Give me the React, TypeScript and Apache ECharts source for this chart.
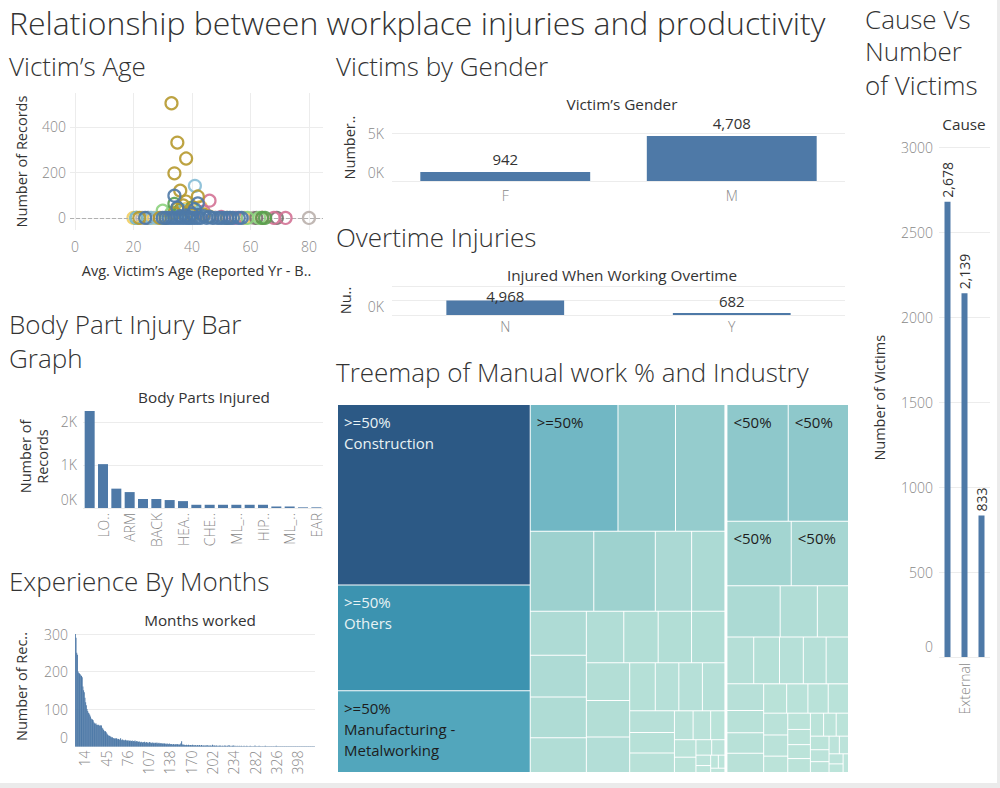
import React, { useEffect, useRef } from 'react';
import * as echarts from 'echarts';

const FONT = 'Open Sans';
const BAR = '#4e79a7';
const INK = '#333333';
const TICK = '#888888';
const GRIDC = '#ececec';
const NONE = 'rgba(0,0,0,0)';

// ---------- Victim's Age scatter (age, records) ----------
const ageOlive = [[33,504],[35,331],[38,261],[34,196],[36,120],[42,94],[38,72],[37,55],[35,40],[39,30],[34,20],[40,12],[44,15],[31,0],[29,0],[22,0],[52,0],[46,6]];
const ageLightBlue = [[41,141],[37,30],[42,22],[21,0],[26,0],[28,0],[39,0],[48,0]];
const ageGreen = [[34,62],[40,45],[36,35],[21,0],[64,0],[65,0]];
const ageLightGreen = [[30,32],[33,22],[59,0],[63,0]];
const agePink = [[46,76],[44,28],[50,4],[72,0],[68,0],[55,0]];
const ageGray = [[80,0],[23,0],[53,0],[61,0]];
const ageOrange = [[20,0],[27,0],[58,0],[38,40],[43,48]];
const ageDarkGray = [[69,0],[62,0],[25,0]];
const ageRed = [[64,0],[48,0]];
const ageBlue = [[34,98],[42,64],[35,45],[41,38],[36,8],[38,10],[40,18],[44,8],[46,4],[24,0],[30,0],[31,0],[32,0],[33,0],[34,0],[35,0],[36,0],[37,0],[38,0],[39,0],[40,0],[41,0],[42,0],[43,0],[45,0],[47,0],[49,0],[50,0],[51,0],[52,0],[53,0],[54,0],[56,0],[57,0]];

// ---------- Body parts ----------
const bodyParts = ['HAND','LO..','FINGER','ARM','LEG','BACK','FOOT','HEA..','EYE','CHE..','KNEE','ML_..','SHOULDER','HIP..','NECK','ML_..','FACE','EAR'];
const bodyValues = [2255,1020,450,370,210,210,185,160,75,75,75,75,75,75,35,35,15,15];

// ---------- Months worked ----------
const monthSegments: [number, number][] = [[0,154],[156,184],[186,219],[221,234]];
const monthsSparse = [235,236,237,238,240,241,242,244,245,246,248,249,250,252,253,254,256,258,259,260,262,264,265,267,268,270,272,274,276,278,282,
  283,284,285,286,288,289,290,292,293,294,296,297,298,300,301,302,304,305,306,308,309,310,312,313,314,316,318,320,322,324,326,
  328,330,332,334,336,338,340,342,344,346,348,350,352,354,356,358,360,362,364,366,368,370,372,374,376,378,380,384,388,392,398,
  400,404,408,412,416,420,424,430,436,442,448,456,464,472,480,490,500,510,520,530,540,552,564,576,600];
const monthTickLabels = ['14','45','76','107','138','170','202','234','282','326','398'];
const monthCounts = [
  300,290,250,245,200,196,195,193,190,188,
  185,160,150,145,130,118,110,100,95,90,
  88,85,80,75,73,72,70,65,62,60,
  62,58,58,57,58,56,55,57,56,50,
  48,45,42,40,41,38,35,32,30,28,
  29,27,26,24,25,23,22,21,23,20,
  22,19,21,20,18,19,22,17,18,19,
  17,17,16,18,15,17,16,14,17,15,
  16,14,15,16,13,15,14,16,13,14,
  15,13,12,14,12,11,13,12,10,12,
  11,13,10,11,12,10,11,9,12,10,
  11,9,10,11,9,10,8,10,9,11,
  8,9,10,8,9,8,9,8,7,9,
  8,7,8,6,8,7,6,8,7,6,
  7,6,5,7,6,5,6,5,7,6,
  5,6,5,6,9,14,5,6,4,5,
  3,4,5,3,4,5,3,4,4,3,
  4,5,3,4,3,4,2,3,4,3,
  3,4,2,3,4,3,2,3,3,2,
  3,2,4,3,2,3,2,3,2,2,
  5,3,2,3,2,2,3,2,1,2,
  2,3,2,1,2,2,1,2,3,2,
  1,2,2,1,4,2,1,2,1,2,
  2,3,1,2,1,1,2,1,1,2,
  1,1,2,1,1,1,2,1,1,1,
  2,1,1,1,1,2,1,1,1,1,
  1,1,3,1,1,1,1,1,2,1,
  1,1,1,1,1,1,1,2,1,1,
  1,1,1,1,1,1,1,1,1,1,
  1,1,1,2,1,1,1,1,1,1,
  1,1,1,1,1,1,1,1,1,1,
  1,1,1,1,1,1,1,1,1,1,
  1,1,1,1,1,1,1,1,1,1,
  1,1,1,1,1,1,1,1,1,1,
  1,1,1,1,1,1,1,1,1,1,
];

// ---------- Gender / Overtime / Cause ----------
const genders = ['F', 'M'];
const genderCounts = [942, 4708];
const overtimeCats = ['N', 'Y'];
const overtimeCounts = [4968, 682];
const causes = ['Internal', 'External', 'Other'];
const causeCounts = [2678, 2139, 833];

// ---------- Treemap (Manual work % -> Industry) ----------
const highManual = [34010,19950,15390,10875,7125,6125,4977,4819,2844,2607,2408,2296,2240,1904,1887,1734,1683,1683,1591,1548,1505,1200,1104,1104,1056,945,900,855,527,496,403,368,322,238,200,150,100,98,84,60];
const highNames = ['Construction','Others','Manufacturing - Metalworking'];
const lowManual = [7076,6960,4096,3648,2703,1887,1581,1242,1196,1104,1058,966,1036,616,588,588,504,814,740,700,666,520,312,286,312,390,364,340,300,280,250,220,200,180,160,140,120,100];

const treeColors = ['#bde4da','#9ed2cf','#7abcc6','#56a9be','#3d95b1','#3580a6','#306c96','#2c5985'];

const fmt = (v: number) => v.toLocaleString('en-US');

function buildOption() {
  const months: string[] = [];
  monthSegments.forEach(([a, b]) => { for (let m = a; m <= b; m++) months.push(String(m)); });
  monthsSparse.forEach((m) => months.push(String(m)));

  const zeroRich = { z: { padding: [0, 0, 18, 0], color: TICK, fontSize: 14, fontFamily: FONT, fontWeight: 300 } };
  const kFmt = (v: number) => (v === 0 ? '{z|0K}' : `${Math.round(v / 1000)}K`);

  const heading = (text: string, x: number, y: number, size: number) => ({
    type: 'text', x, y, silent: true,
    style: { text, fontSize: size, lineHeight: size + 2, fontFamily: FONT, fontWeight: 300, fill: INK, textVerticalAlign: 'middle' },
  });
  const chartTitle = (text: string, cx: number, y: number) => ({
    type: 'text', x: cx, y, silent: true,
    style: { text, fontSize: 15.3, fontFamily: FONT, fill: INK, textAlign: 'center', textVerticalAlign: 'middle' },
  });

  const axisName = { color: INK, fontSize: 14.5, fontFamily: FONT };
  const tickLbl = { color: TICK, fontSize: 14, fontFamily: FONT, fontWeight: 300 };

  const scatterGroups = [
    { c: '#bab0ac', d: ageGray },
    { c: '#f1ce63', d: ageOrange },
    { c: '#79706e', d: ageDarkGray },
    { c: '#e15759', d: ageRed },
    { c: '#d37295', d: agePink },
    { c: '#8cd17d', d: ageLightGreen },
    { c: '#59a14f', d: ageGreen },
    { c: '#86bcd6', d: ageLightBlue },
    { c: '#b6992d', d: ageOlive },
    { c: '#4e79a7', d: ageBlue },
  ];

  const scatterSeries = scatterGroups.map((g, i) => ({
    type: 'scatter', xAxisIndex: 0, yAxisIndex: 0, data: g.d, symbol: 'circle', symbolSize: 12,
    itemStyle: { color: NONE, borderColor: g.c, borderWidth: 2.2, opacity: 0.9 },
    markLine: i === 0 ? {
      silent: true, symbol: 'none', label: { show: false },
      lineStyle: { type: 'dashed', color: '#b0b0b0', width: 1 }, data: [{ yAxis: 0 }],
    } : undefined,
    z: 3 + i,
  }));

  const treeLabelBase = {
    show: false, position: 'insideTopLeft', fontSize: 15, lineHeight: 21, fontFamily: FONT,
    padding: [6, 6], color: '#1d1d1d',
  };
  const highData = highManual.map((v, i) => {
    const name = highNames[i] || `Industry ${i + 1}`;
    const item: any = { name, value: v };
    if (i === 0) item.label = { show: true, formatter: '>=50%\n{b}', color: '#e8f2f4' };
    if (i === 1) item.label = { show: true, formatter: '>=50%\n{b}', color: '#e8f2f4' };
    if (i === 2) item.label = { show: true, formatter: '>=50%\nManufacturing -\nMetalworking', color: '#1d1d1d' };
    if (i === 3) item.label = { show: true, formatter: '>=50%' };
    return item;
  });
  const lowData = lowManual.map((v, i) => {
    const item: any = { name: `Industry L${i + 1}`, value: v };
    if (i < 4) item.label = { show: true, formatter: '<50%' };
    return item;
  });

  return {
    animation: false,
    textStyle: { fontFamily: FONT },
    graphic: [
      { type: 'rect', shape: { x: 997, y: 0, width: 3, height: 788 }, style: { fill: '#ebebeb' }, silent: true },
      { type: 'rect', shape: { x: 0, y: 783, width: 1000, height: 5 }, style: { fill: '#ebebeb' }, silent: true },
      heading('Relationship between workplace injuries and productivity', 9, 22, 32),
      heading('Victim’s Age', 9, 66, 26),
      heading('Body Part Injury Bar', 9, 324, 26),
      heading('Graph', 9, 358, 26),
      heading('Experience By Months', 9, 581, 26),
      heading('Victims by Gender', 336, 66, 26),
      heading('Overtime Injuries', 336, 237, 26),
      heading('Treemap of Manual work % and Industry', 336, 372, 26),
      heading('Cause Vs', 865, 18.5, 26),
      heading('Number', 865, 51, 26),
      heading('of Victims', 865, 85, 26),
      chartTitle('Body Parts Injured', 204, 397),
      chartTitle('Months worked', 200, 620),
      chartTitle('Victim’s Gender', 622, 104),
      chartTitle('Injured When Working Overtime', 622, 275),
      chartTitle('Cause', 964, 124),
    ],
    grid: [
      { left: 70, top: 93, width: 253, height: 137 },
      { left: 83, top: 405, width: 240, height: 103 },
      { left: 75, top: 626.5, width: 240, height: 120 },
      { left: 392, top: 114, width: 453, height: 67 },
      { left: 392, top: 286, width: 453, height: 29 },
      { left: 939, top: 138.5, width: 51, height: 518.5 },
    ],
    xAxis: [
      {
        gridIndex: 0, type: 'value', min: -1.7, max: 84.8,
        name: 'Avg. Victim’s Age (Reported Yr - B..', nameLocation: 'middle', nameGap: 33, nameTextStyle: axisName,
        axisLine: { show: false }, axisTick: { show: false },
        axisLabel: { ...tickLbl, margin: 9, showMinLabel: false, showMaxLabel: false },
        splitLine: { show: true, lineStyle: { color: [NONE, GRIDC, GRIDC, GRIDC, GRIDC, GRIDC, NONE] } },
      },
      {
        gridIndex: 1, type: 'category', data: bodyParts,
        axisLine: { show: false }, axisTick: { show: false },
        axisLabel: { ...tickLbl, rotate: 90, margin: 5, interval: (i: number) => i % 2 === 1 },
      },
      {
        gridIndex: 2, type: 'category', data: months,
        axisLine: { show: false }, axisTick: { show: false },
        axisLabel: { ...tickLbl, rotate: 90, margin: 4, interval: (_i: number, v: string) => monthTickLabels.includes(v) },
      },
      {
        gridIndex: 3, type: 'category', data: genders,
        axisLine: { show: false }, axisTick: { show: false },
        axisLabel: { ...tickLbl, margin: 7 },
      },
      {
        gridIndex: 4, type: 'category', data: overtimeCats,
        axisLine: { show: false }, axisTick: { show: false },
        axisLabel: { ...tickLbl, margin: 4 },
      },
      {
        gridIndex: 5, type: 'category', data: causes,
        axisLine: { show: false }, axisTick: { show: false },
        axisLabel: { ...tickLbl, rotate: 90, margin: 6, interval: (i: number) => i === 1 },
      },
    ],
    yAxis: [
      {
        gridIndex: 0, type: 'value', min: -53, max: 549, splitNumber: 3,
        name: 'Number of Records', nameLocation: 'middle', nameGap: 41, nameTextStyle: axisName,
        axisLine: { show: false }, axisTick: { show: false },
        axisLabel: { ...tickLbl, margin: 4, showMinLabel: false, showMaxLabel: false },
        splitLine: { show: true, lineStyle: { color: [NONE, GRIDC, GRIDC, GRIDC, NONE] } },
      },
      {
        gridIndex: 1, type: 'value', min: 0, max: 2395, splitNumber: 2,
        name: 'Number of\nRecords', nameLocation: 'middle', nameGap: 32, nameTextStyle: { ...axisName, lineHeight: 17 },
        axisLine: { show: false }, axisTick: { show: false },
        axisLabel: { ...tickLbl, margin: 6, showMaxLabel: false, formatter: kFmt, rich: zeroRich },
        splitLine: { show: true, lineStyle: { color: [GRIDC, GRIDC, GRIDC, NONE] } },
      },
      {
        gridIndex: 2, type: 'value', min: 0, max: 320, splitNumber: 3,
        name: 'Number of Rec..', nameLocation: 'middle', nameGap: 46, nameTextStyle: axisName,
        axisLine: { show: false }, axisTick: { show: false },
        axisLabel: { ...tickLbl, margin: 7, showMaxLabel: false, formatter: (v: number) => (v === 0 ? '{z|0}' : String(v)), rich: zeroRich },
        splitLine: { show: true, lineStyle: { color: [GRIDC, GRIDC, GRIDC, GRIDC, NONE] } },
      },
      {
        gridIndex: 3, type: 'value', min: 0, max: 7000, interval: 5000,
        name: 'Number..', nameLocation: 'middle', nameGap: 35, nameTextStyle: axisName,
        axisLine: { show: false }, axisTick: { show: false },
        axisLabel: { ...tickLbl, margin: 8, showMaxLabel: false, formatter: kFmt, rich: zeroRich },
        splitLine: { show: true, lineStyle: { color: [GRIDC, GRIDC, NONE] } },
      },
      {
        gridIndex: 4, type: 'value', min: 0, max: 10000, interval: 5000,
        name: 'Nu..', nameLocation: 'middle', nameGap: 39, nameTextStyle: axisName,
        axisLine: { show: false }, axisTick: { show: false },
        axisLabel: { ...tickLbl, margin: 8, formatter: (v: number) => (v === 0 ? '{z|0K}' : ''), rich: zeroRich },
        splitLine: { show: true, lineStyle: { color: GRIDC } },
      },
      {
        gridIndex: 5, type: 'value', min: 0, max: 3050, interval: 500,
        name: 'Number of Victims', nameLocation: 'middle', nameGap: 52, nameTextStyle: axisName,
        axisLine: { show: false }, axisTick: { show: false },
        axisLabel: { ...tickLbl, margin: 6, showMaxLabel: false, formatter: (v: number) => (v === 0 ? '{z|0}' : String(v)), rich: { z: { ...zeroRich.z, padding: [0, 0, 22, 0] } } },
        splitLine: { show: true, lineStyle: { color: [GRIDC, GRIDC, GRIDC, GRIDC, GRIDC, GRIDC, GRIDC, NONE] } },
      },
    ],
    series: [
      ...scatterSeries,
      {
        type: 'bar', xAxisIndex: 1, yAxisIndex: 1, data: bodyValues, barWidth: '75%',
        itemStyle: { color: BAR },
      },
      {
        type: 'bar', xAxisIndex: 2, yAxisIndex: 2, data: monthCounts, barWidth: '100%', barCategoryGap: 0,
        itemStyle: { color: BAR },
      },
      {
        type: 'bar', xAxisIndex: 3, yAxisIndex: 3, data: genderCounts, barWidth: '75%',
        itemStyle: { color: BAR },
        label: { show: true, position: 'top', distance: 5, color: INK, fontSize: 15, fontFamily: FONT, formatter: (p: any) => fmt(p.value) },
      },
      {
        type: 'bar', xAxisIndex: 4, yAxisIndex: 4,
        data: overtimeCounts.map((v, i) => (i === 0 ? { value: v, label: { distance: -3 } } : v)),
        barWidth: '52%', itemStyle: { color: BAR },
        label: { show: true, position: 'top', distance: 5, color: INK, fontSize: 15, fontFamily: FONT, formatter: (p: any) => fmt(p.value) },
      },
      {
        type: 'bar', xAxisIndex: 5, yAxisIndex: 5, data: causeCounts, barWidth: 6,
        itemStyle: { color: BAR },
        label: { show: true, position: 'top', rotate: 90, align: 'left', verticalAlign: 'middle', distance: 4, color: INK, fontSize: 14, fontFamily: FONT, formatter: (p: any) => fmt(p.value) },
      },
      {
        type: 'treemap', left: 338, top: 405, width: 510, height: 367,
        roam: false, nodeClick: false, breadcrumb: { show: false },
        label: { show: false }, upperLabel: { show: false },
        itemStyle: { borderColor: '#fff' },
        levels: [
          { itemStyle: { gapWidth: 3, borderWidth: 0, borderColor: '#fff', color: '#fff' } },
          {
            color: treeColors, colorMappingBy: 'value', visualMin: 0, visualMax: Math.max(...highManual),
            itemStyle: { gapWidth: 1, borderWidth: 0, borderColor: '#fff' },
          },
          { itemStyle: { borderWidth: 0 }, label: treeLabelBase },
        ],
        data: [
          { name: '>=50%', children: highData },
          { name: '<50%', children: lowData },
        ],
      },
    ],
  };
}

export default function App() {
  const ref = useRef<HTMLDivElement>(null);
  useEffect(() => {
    if (!ref.current) return;
    const chart = echarts.init(ref.current, null, { renderer: 'svg' });
    chart.setOption(buildOption() as any);
    return () => chart.dispose();
  }, []);
  return (
    <div
      ref={ref}
      style={{ position: 'fixed', left: 0, top: 0, width: 1000, height: 788, background: '#ffffff' }}
    />
  );
}
